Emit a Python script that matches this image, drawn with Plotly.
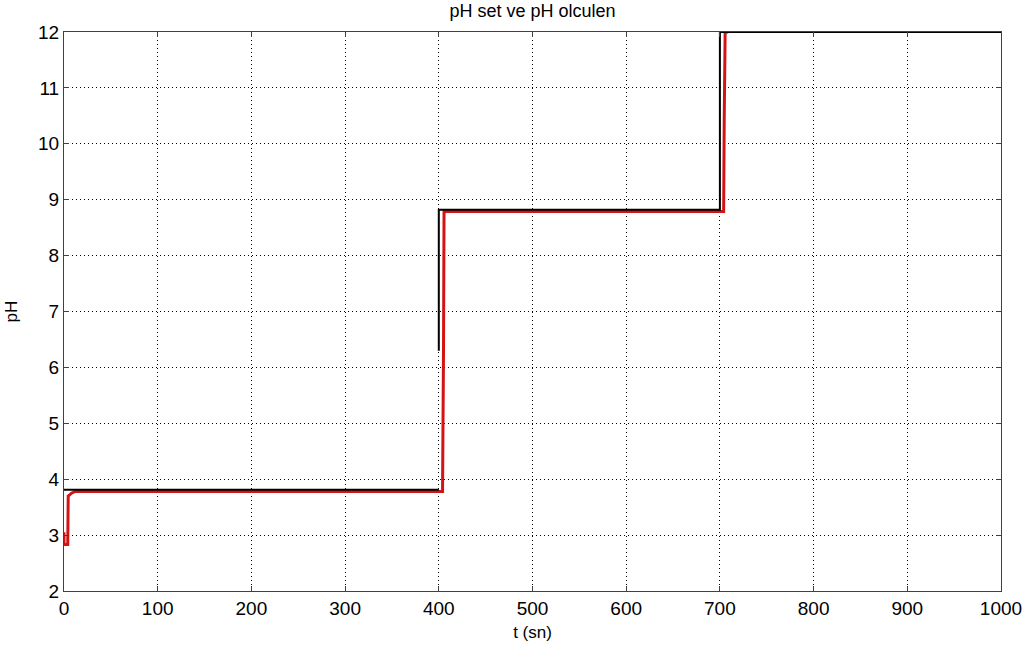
import plotly.graph_objects as go

# Setpoint (black) – time in s, pH
set_t = [0, 400, None, 400, 400, 700, 700, 1000]
set_ph = [3.81, 3.81, None, 6.3, 8.82, 8.82, 12.0, 12.0]

# Measured pH (red)
meas_t = [0, 0, 4, 4.5, 6, 8, 12, 404, 405, 405.6, 407, 704, 704.6, 705.6, 706.5, 709]
meas_ph = [3.05, 2.83, 2.83, 3.70, 3.72, 3.75, 3.78, 3.78, 6.25, 8.79, 8.79, 8.79, 10.4, 12.0, 12.0, 12.0]

x_ticks = [0, 100, 200, 300, 400, 500, 600, 700, 800, 900, 1000]
y_ticks = [2, 3, 4, 5, 6, 7, 8, 9, 10, 11, 12]

FONT = "Liberation Sans, Arial, sans-serif"

fig = go.Figure()
fig.add_trace(go.Scatter(x=meas_t, y=meas_ph, mode="lines",
                         line=dict(color="#d41414", width=3), showlegend=False))
fig.add_trace(go.Scatter(x=set_t, y=set_ph, mode="lines", connectgaps=False,
                         line=dict(color="#000000", width=2), showlegend=False))

axis_common = dict(
    showgrid=True, gridcolor="#000000", griddash="1px,3px", gridwidth=1,
    showline=True, linecolor="#404040", linewidth=1, mirror="ticks",
    ticks="inside", ticklen=5, tickcolor="#404040", automargin=False,
    zeroline=False, tickfont=dict(family=FONT, size=19, color="#000000"),
)

fig.update_layout(
    width=1035, height=655,
    paper_bgcolor="white", plot_bgcolor="white",
    margin=dict(l=64, r=34, t=32, b=64),
    title=dict(text="pH set ve pH olculen", x=0.5145, xanchor="center",
               yref="container", y=1 - 11 / 655, yanchor="middle",
               font=dict(family=FONT, size=18, color="#000000")),
    xaxis=dict(range=[0, 1000], tickvals=x_ticks,
               title=dict(text="t (sn)", font=dict(family=FONT, size=17, color="#000000"),
                          standoff=8),
               **axis_common),
    yaxis=dict(range=[2, 12], tickvals=y_ticks,
               title=dict(text="pH", font=dict(family=FONT, size=17, color="#000000"),
                          standoff=16),
               **axis_common),
)

fig.write_html("out.html", config={"displayModeBar": False},
               post_script="document.body.style.margin='0';")
